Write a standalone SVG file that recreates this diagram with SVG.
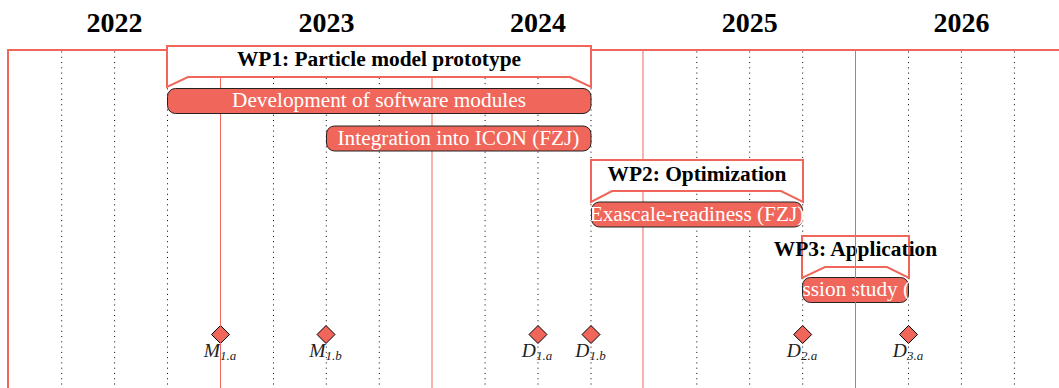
<svg xmlns="http://www.w3.org/2000/svg" width="1059" height="388" viewBox="0 0 1059 388">
<style>
.year{font-family:"Liberation Serif","Times New Roman",serif;font-weight:bold;font-size:28px;fill:#000;text-anchor:middle}
.dot{stroke:#000;stroke-width:1;stroke-dasharray:1 4.27;fill:none}
.yl{stroke:#F0665A;stroke-width:1;fill:none}
.frame{stroke:#F0665A;stroke-width:2;fill:none}
.wp{fill:#fff;stroke:#F0665A;stroke-width:2;stroke-linejoin:miter}
.wpt{font-family:"Liberation Serif","Times New Roman",serif;font-weight:bold;font-size:21.4px;fill:#000;text-anchor:middle}
.bar{fill:#F0665A;stroke:#222;stroke-width:1}
.bt{font-family:"Liberation Serif","Times New Roman",serif;font-size:21.3px;fill:#fff;text-anchor:middle}
.ms{fill:#F0665A;stroke:#000;stroke-width:1}
.ml{font-family:"Liberation Serif","Times New Roman",serif;font-style:italic;font-size:19.5px;fill:#222;text-anchor:middle}
.sub{font-size:13px}
</style>
<rect width="1059" height="388" fill="#fff"/>
<g id="years">
<text class="year" x="114.6" y="31.5">2022</text>
<text class="year" x="326.4" y="31.5">2023</text>
<text class="year" x="538" y="31.5">2024</text>
<text class="year" x="749.7" y="31.5">2025</text>
<text class="year" x="961.5" y="31.5">2026</text>
</g>
<g id="grid">
<path class="dot" d="M61.7 51.5V388M114.6 51.5V388M167.5 51.5V388M273.5 51.5V388M326.3 51.5V388M379.3 51.5V388M485.1 51.5V388M538 51.5V388M591 51.5V388M696.8 51.5V388M749.7 51.5V388M802.7 51.5V388M908.5 51.5V388M961.4 51.5V388M1014.4 51.5V388"/>
</g>
<g id="milestones">
<g id="m1a"><path class="ms" d="M220.5 325.5L229.5 334.5L220.5 343.5L211.5 334.5Z"/><text class="ml" x="220" y="357">M<tspan class="sub" dy="2.5">1.a</tspan></text></g>
<g id="m1b"><path class="ms" d="M326 325.5L335 334.5L326 343.5L317 334.5Z"/><text class="ml" x="325.5" y="357">M<tspan class="sub" dy="2.5">1.b</tspan></text></g>
<g id="d1a"><path class="ms" d="M538 325.5L547 334.5L538 343.5L529 334.5Z"/><text class="ml" x="537" y="357">D<tspan class="sub" dy="2.5">1.a</tspan></text></g>
<g id="d1b"><path class="ms" d="M591 325.5L600 334.5L591 343.5L582 334.5Z"/><text class="ml" x="590.5" y="357">D<tspan class="sub" dy="2.5">1.b</tspan></text></g>
<g id="d2a"><path class="ms" d="M802.7 325.5L811.7 334.5L802.7 343.5L793.7 334.5Z"/><text class="ml" x="802" y="357">D<tspan class="sub" dy="2.5">2.a</tspan></text></g>
<g id="d3a"><path class="ms" d="M908.5 325.5L917.5 334.5L908.5 343.5L899.5 334.5Z"/><text class="ml" x="908" y="357">D<tspan class="sub" dy="2.5">3.a</tspan></text></g>
</g>
<g id="yearlines">
<path class="yl" d="M220.5 50V388M432 50V388M643 50V388"/>
<path class="frame" d="M7 50H1059M8 49V388"/>
</g>
<g id="wp1">
<path class="wp" d="M167 46H591V87L570 77H188L167 87Z"/>
<text class="wpt" x="379" y="66">WP1: Particle model prototype</text>
<rect class="bar" x="167.5" y="88.5" width="423.5" height="25" rx="8"/>
<text class="bt" x="379" y="107">Development of software modules</text>
<rect class="bar" x="326.5" y="126" width="264.5" height="25" rx="8"/>
<text class="bt" x="458.5" y="145">Integration into ICON (FZJ)</text>
</g>
<g id="wp2">
<path class="wp" d="M591 160H803V202L781 191H612L591 202Z"/>
<text class="wpt" x="697" y="181">WP2: Optimization</text>
<rect class="bar" x="591.5" y="202" width="211" height="25" rx="8"/>
<text class="bt" x="697" y="221">Exascale-readiness (FZJ)</text>
</g>
<g id="wp3">
<path class="wp" d="M802 236H909V278L887 267H825L802 278Z"/>
<text class="wpt" x="855.5" y="256">WP3: Application</text>
<rect class="bar" x="802.5" y="277.5" width="106" height="25" rx="8"/>
<text class="bt" x="802.5" y="296" style="text-anchor:start">ssion study (</text>
</g>
<g id="overlay">
<path class="yl" d="M855.5 50V388"/>
</g>
<g id="connectors"/>
</svg>
